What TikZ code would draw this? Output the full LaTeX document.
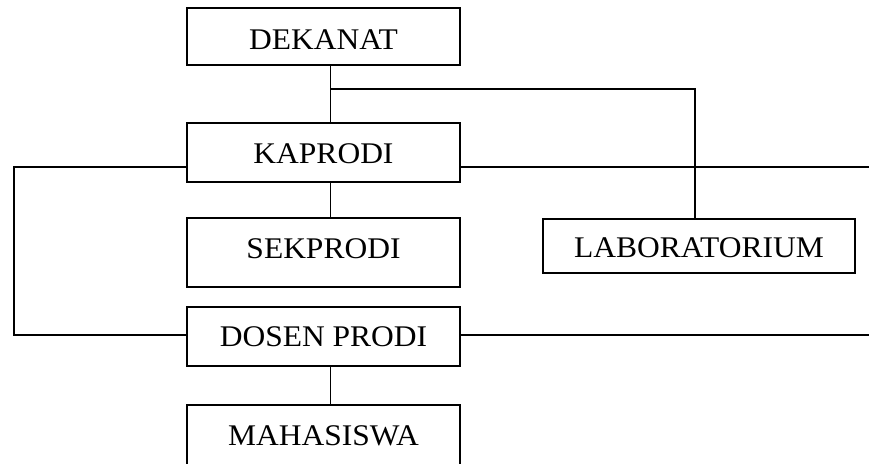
\documentclass[tikz,border=0pt]{standalone}
\usepackage{fontspec}
\setmainfont{Liberation Serif}[FakeStretch=1.05]
\usepackage{tikz}

\tikzset{
  kotak/.style={draw, line width=1.6pt, minimum width=273pt, inner sep=0pt,
    text height=26pt, text depth=0pt, font=\fontsize{30}{34}\selectfont},
  tipis/.style={line width=1pt},
  tebal/.style={line width=1.6pt}
}

\begin{document}
\begin{tikzpicture}[x=1pt, y=1pt]

  % Parameters
  \def\xc{323.5}        % centre of the left column
  \def\off{6.5}         % connectors sit a bit right of centre
  \useasboundingbox (0,0) rectangle (869,463);

  % Boxes
  \node[kotak, minimum height=57pt] (dekanat) at (\xc,426.5) {DEKANAT};
  \node[kotak, minimum height=59pt, text height=23pt] (kaprodi) at (\xc,310.5) {KAPRODI};
  \node[kotak, minimum height=69pt, text height=13pt] (sekprodi) at (\xc,210.5) {SEKPRODI};
  \node[kotak, minimum height=54pt, minimum width=312pt, text height=23pt] (lab) at (699,217) {LABORATORIUM};
  \node[kotak, minimum height=59pt, text height=20pt] (dosen) at (\xc,126.5) {DOSEN PRODI};
  \node[kotak, minimum height=63pt, text height=17pt] (mhs) at (\xc,26.5) {MAHASISWA};

  % Bend points and free ends
  \coordinate (cabang) at (\xc+\off,374);
  \coordinate (labatas) at (695,374);
  \coordinate (kiriatas) at (14,296);
  \coordinate (kiribawah) at (14,128);
  \coordinate (kananatas) at (869,296);
  \coordinate (kananbawah) at (869,128);

  % Vertical links
  \draw[tipis] ([xshift=\off pt]dekanat.south) -- ([xshift=\off pt]kaprodi.north);
  \draw[tipis] ([xshift=\off pt]kaprodi.south) -- ([xshift=\off pt]sekprodi.north);
  \draw[tipis] ([xshift=\off pt]dosen.south) -- ([xshift=\off pt]mhs.north);

  % Dekanat to laboratorium
  \draw[tebal] (cabang) -- (labatas) -- (labatas |- lab.north);

  % Kaprodi and dosen prodi
  \draw[tebal] ([yshift=-14.5pt]kaprodi.west) -- (kiriatas) -- (kiribawah)
    -- (kiribawah -| dosen.west);
  \draw[tebal] ([yshift=-14.5pt]kaprodi.east) -- (kananatas);
  \draw[tebal] ([yshift=1.5pt]dosen.east) -- (kananbawah);

\end{tikzpicture}
\end{document}
